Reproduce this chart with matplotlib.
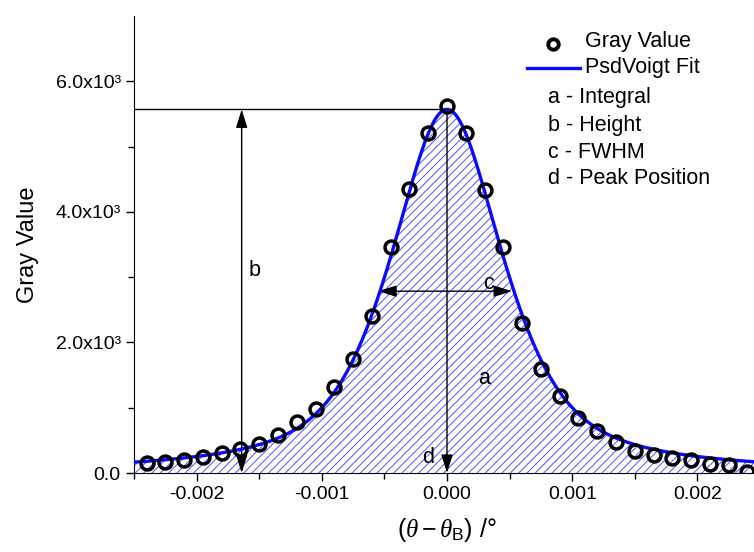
import numpy as np
import matplotlib
matplotlib.use("Agg")
import matplotlib.pyplot as plt
from matplotlib.lines import Line2D

plt.rcParams.update({
    'font.family': ['Liberation Sans', 'DejaVu Sans'],
    'font.size': 14,
    'axes.unicode_minus': False,
    'mathtext.fontset': 'custom',
    'mathtext.rm': 'Liberation Sans',
    'mathtext.it': 'Liberation Serif:italic',
    'hatch.linewidth': 0.7,
})

# ── Data ───────────────────────────────────────────────────────────────────
theta = [-0.0024, -0.00225, -0.0021, -0.00195, -0.0018, -0.00165, -0.0015,
         -0.00135, -0.0012, -0.00105, -0.0009, -0.00075, -0.0006, -0.00045,
         -0.0003, -0.00015, 0.0, 0.00015, 0.0003, 0.00045, 0.0006, 0.00075,
         0.0009, 0.00105, 0.0012, 0.00135, 0.0015, 0.00165, 0.0018, 0.00195,
         0.0021, 0.00225, 0.0024]
gray = [150, 170, 195, 245, 305, 360, 450, 580, 775, 975, 1320, 1750, 2410,
        3460, 4350, 5210, 5615, 5210, 4340, 3455, 2305, 1595, 1185, 840, 645,
        475, 340, 280, 235, 195, 145, 125, 20]

# pseudo-Voigt fit parameters (height, FWHM, peak position, Lorentz fraction)
PEAK_POS = 0.0
HEIGHT = 5570
FWHM = 0.00107
MU = 0.68
HALF_LEFT, HALF_RIGHT = -0.00055, 0.00052
B_POS = -0.00164

yticks = [0, 2000, 4000, 6000]
yticklabels = ['0.0', '2.0x10³', '4.0x10³', '6.0x10³']
xticks = [-0.002, -0.001, 0.0, 0.001, 0.002]
xticklabels = ['-0.002', '-0.001', '0.000', '0.001', '0.002']
notes = ['a - Integral', 'b - Height', 'c - FWHM', 'd - Peak Position']

BLUE = '#0a0aff'


def psd_voigt(x):
    d = (np.asarray(x) - PEAK_POS) / FWHM
    lor = 1.0 / (1.0 + 4.0 * d ** 2)
    gau = np.exp(-4.0 * np.log(2) * d ** 2)
    return HEIGHT * (MU * lor + (1 - MU) * gau)


W, H = 754, 552
fig = plt.figure(figsize=(W / 100, H / 100), dpi=100)
ax = fig.add_axes([134 / W, 1 - 473 / H, (760 - 134) / W, (473 - 16) / H])

xs = np.linspace(-0.0025, 0.0025, 800)
ys = psd_voigt(xs)

ax.fill_between(xs, 0, ys, facecolor='none', edgecolor='#5050ff',
                hatch='////', linewidth=0, zorder=1)

arrow_kw = dict(color='black', lw=1.0, shrinkA=0, shrinkB=0,
                mutation_scale=14)
two_head = '<|-|>,head_length=0.8,head_width=0.25'
one_head = '-|>,head_length=0.8,head_width=0.25'

# b - height
ax.annotate('', xy=(B_POS, HEIGHT), xytext=(B_POS, 0),
            arrowprops=dict(arrowstyle=two_head, **arrow_kw), zorder=3)
ax.plot([-0.0025, PEAK_POS], [HEIGHT, HEIGHT], color='black', lw=1.0, zorder=3)
# d - peak position
ax.annotate('', xy=(PEAK_POS, 0), xytext=(PEAK_POS, HEIGHT),
            arrowprops=dict(arrowstyle=one_head, **arrow_kw), zorder=3)
# c - FWHM
ax.annotate('', xy=(HALF_LEFT, HEIGHT / 2), xytext=(HALF_RIGHT, HEIGHT / 2),
            arrowprops=dict(arrowstyle=two_head, **arrow_kw), zorder=3)

ax.plot(xs, ys, color=BLUE, lw=2.4, zorder=4)
ax.plot(theta, gray, 'o', ms=9.3, mfc='none', mec='black', mew=2.5, zorder=5)

ax.text(-0.00154, 3100, 'b', ha='center', va='center', fontsize=15.5)
ax.text(0.00033, 2900, 'c', ha='center', va='center', fontsize=15.5)
ax.text(0.0003, 1450, 'a', ha='center', va='center', fontsize=15.5)
ax.text(-0.00015, 230, 'd', ha='center', va='center', fontsize=15.5)

ax.set_xlim(-0.0025, 0.0025)
ax.set_ylim(0, 7000)
ax.set_xticks(xticks)
ax.set_xticklabels(xticklabels)
ax.set_xticks(np.arange(-0.0025, 0.00251, 0.0005), minor=True)
ax.set_yticks(yticks)
ax.set_yticklabels(yticklabels)
ax.set_yticks([1000, 3000, 5000], minor=True)
ax.tick_params(which='major', direction='out', length=6, width=1, labelsize=14)
ax.tick_params(which='minor', direction='out', length=4, width=1)
for s in ['top', 'right']:
    ax.spines[s].set_visible(False)

ax.set_ylabel('Gray Value', fontsize=17, labelpad=12)
ax.set_xlabel(r'$(\mathit{\theta}-\mathit{\theta}_\mathrm{B})$ /°', fontsize=18, labelpad=9)

# legend, placed by hand
fig.add_artist(Line2D([553 / W], [1 - 44 / H], ls='none', marker='o', ms=7.5,
                      mfc='none', mec='black', mew=2.8, transform=fig.transFigure))
fig.add_artist(Line2D([527 / W, 580 / W], [1 - 68 / H, 1 - 68 / H], color=BLUE,
                      lw=2.4, transform=fig.transFigure))
fig.text(585 / W, 1 - 42 / H, 'Gray Value', ha='left', va='center', fontsize=15.5)
fig.text(585 / W, 1 - 68 / H, 'PsdVoigt Fit', ha='left', va='center', fontsize=15.5)
for i, t in enumerate(notes):
    fig.text(548 / W, 1 - (98 + 27 * i) / H, t, ha='left', va='center', fontsize=15.5)

fig.savefig('out.png', dpi=100)
